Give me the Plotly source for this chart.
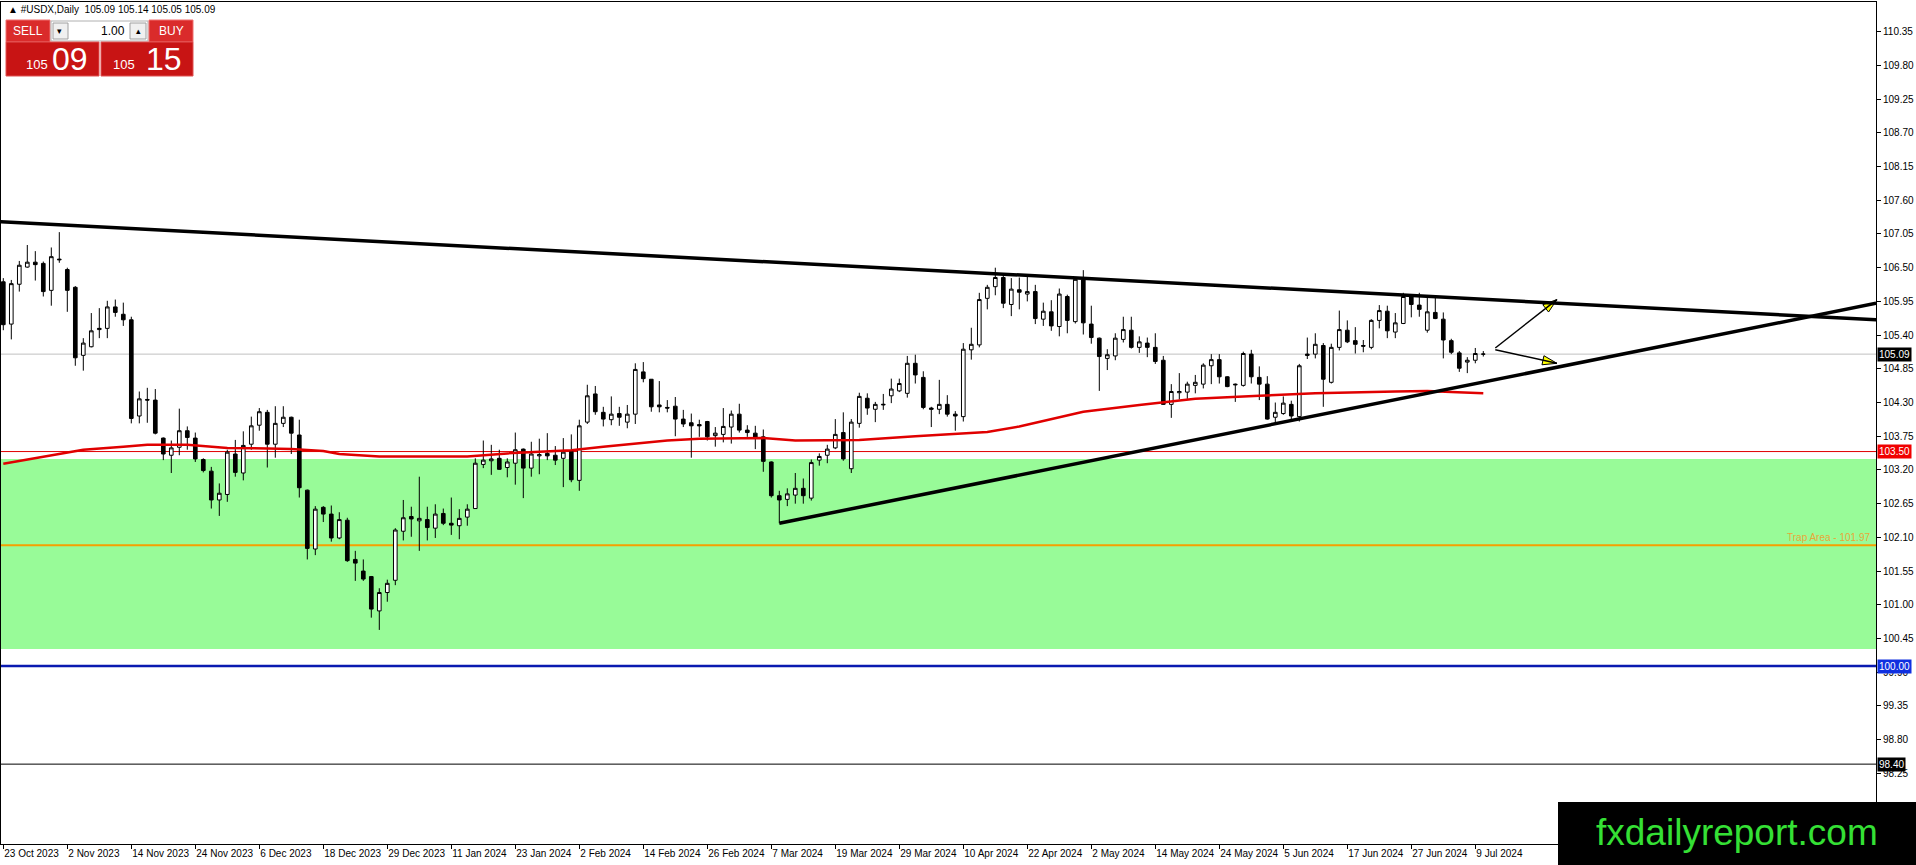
import math
import pandas as pd
import plotly.graph_objects as go

# daily USDX bars, 23 Oct 2023 .. 10 Jul 2024 (broker has no bar on 25 Dec / 1 Jan)
dates = pd.bdate_range("2023-10-23", "2024-07-10")
dates = dates[~dates.isin(pd.to_datetime(["2023-12-25", "2024-01-01"]))]

opens = [
    106.27, 105.58, 106.23, 106.51, 106.59, 106.57, 106.13, 106.64, 106.47, 106.18,
    105.07, 105.21, 105.49, 105.51, 105.86, 105.74, 105.65, 104.08, 104.35, 104.34,
    103.72, 103.44, 103.57, 103.84, 103.72, 103.37, 103.18, 102.71, 102.80, 103.46,
    103.15, 103.62, 103.93, 104.14, 103.62, 103.96, 104.06, 103.77, 102.87, 101.91,
    102.59, 102.48, 102.09, 102.38, 101.74, 101.55, 101.46, 100.90, 101.20, 101.40,
    102.20, 102.44, 102.37, 102.39, 102.25, 102.49, 102.33, 102.29, 102.43, 102.57,
    103.29, 103.35, 103.39, 103.24, 103.31, 103.54, 103.23, 103.43, 103.47, 103.44,
    103.39, 103.50, 103.03, 103.98, 104.44, 104.14, 104.02, 104.12, 103.98, 104.11,
    104.80, 104.68, 104.26, 104.22, 104.24, 104.03, 103.97, 103.94, 103.99, 103.76,
    103.78, 103.90, 104.11, 103.85, 103.80, 103.74, 103.33, 102.78, 102.72, 102.79,
    102.90, 102.74, 103.36, 103.44, 103.56, 103.81, 103.22, 103.96, 104.37, 104.19,
    104.26, 104.41, 104.49, 104.45, 104.94, 104.71, 104.21, 104.19, 104.27, 104.11,
    104.07, 105.16, 105.24, 106.00, 106.19, 106.34, 105.90, 106.14, 106.07, 106.11,
    105.66, 105.78, 105.54, 106.03, 105.62, 106.30, 105.58, 105.35, 105.02, 105.06,
    105.33, 105.48, 105.20, 105.27, 105.20, 104.99, 104.27, 104.46, 104.47, 104.58,
    104.60, 104.90, 105.00, 104.72, 104.60, 104.58, 105.09, 104.71, 104.60, 104.06,
    104.12, 104.27, 104.07, 105.09, 105.09, 105.23, 104.63, 105.20, 105.48, 105.31,
    105.23, 105.20, 105.64, 105.79, 105.45, 105.59, 106.03, 105.89, 105.48, 105.77,
    105.66, 105.31, 105.11, 104.96, 104.99, 105.09,
]
highs = [
    106.33, 106.30, 106.61, 106.87, 106.77, 106.60, 106.83, 107.08, 106.50, 106.20,
    105.35, 105.76, 105.84, 105.96, 105.98, 105.93, 105.70, 104.48, 104.54, 104.52,
    103.73, 103.68, 104.20, 103.91, 103.81, 103.39, 103.25, 102.98, 103.53, 103.69,
    103.83, 104.07, 104.21, 104.18, 104.24, 104.24, 104.07, 104.02, 102.88, 102.61,
    102.61, 102.62, 102.51, 102.42, 101.88, 101.74, 101.47, 101.27, 101.41, 102.25,
    102.71, 102.60, 103.09, 102.60, 102.64, 102.57, 102.75, 102.56, 102.64, 103.39,
    103.68, 103.61, 103.53, 103.39, 103.81, 103.55, 103.66, 103.71, 103.80, 103.59,
    103.72, 103.78, 104.02, 104.59, 104.57, 104.23, 104.40, 104.23, 104.26, 104.94,
    104.96, 104.68, 104.65, 104.34, 104.39, 104.18, 104.12, 104.02, 104.00, 103.90,
    104.21, 104.17, 104.28, 103.93, 103.92, 103.86, 103.34, 102.86, 102.90, 103.15,
    103.06, 103.37, 103.47, 103.61, 104.03, 104.14, 104.03, 104.46, 104.45, 104.31,
    104.44, 104.69, 104.69, 105.06, 105.08, 104.81, 104.23, 104.67, 104.42, 104.16,
    105.27, 105.52, 106.09, 106.22, 106.50, 106.39, 106.33, 106.34, 106.35, 106.22,
    105.93, 105.97, 106.16, 106.06, 106.34, 106.46, 105.88, 105.36, 105.17, 105.43,
    105.70, 105.70, 105.38, 105.36, 105.43, 105.06, 104.60, 104.78, 104.64, 104.75,
    104.94, 105.09, 105.09, 104.73, 104.61, 105.13, 105.16, 104.89, 104.73, 104.30,
    104.40, 104.33, 104.93, 105.36, 105.43, 105.27, 105.26, 105.80, 105.64, 105.53,
    105.32, 105.66, 105.89, 105.88, 105.76, 106.09, 106.06, 106.09, 106.02, 106.02,
    105.77, 105.34, 105.14, 105.04, 105.19, 105.14,
]
lows = [
    105.48, 105.33, 106.11, 106.50, 106.29, 106.03, 105.88, 106.58, 105.78, 104.90,
    104.82, 105.20, 105.35, 105.35, 105.70, 105.55, 103.96, 103.96, 103.97, 103.78,
    103.36, 103.15, 103.44, 103.53, 103.33, 103.16, 102.57, 102.45, 102.68, 103.09,
    103.03, 103.53, 103.84, 103.24, 103.40, 103.90, 103.46, 102.75, 101.74, 101.81,
    102.35, 102.03, 102.07, 101.70, 101.39, 101.39, 100.79, 100.59, 101.05, 101.32,
    102.05, 102.11, 101.88, 102.05, 102.09, 102.30, 102.14, 102.07, 102.29, 102.57,
    103.23, 103.12, 103.20, 103.08, 102.96, 102.74, 103.09, 103.13, 103.36, 103.28,
    102.92, 103.00, 102.86, 103.95, 104.10, 103.91, 103.93, 103.92, 103.88, 103.95,
    104.63, 104.15, 104.14, 104.14, 103.75, 103.90, 103.40, 103.74, 103.68, 103.58,
    103.65, 103.63, 103.81, 103.74, 103.54, 103.17, 102.75, 102.33, 102.61, 102.65,
    102.65, 102.70, 103.27, 103.31, 103.54, 103.35, 103.15, 103.89, 104.10, 103.98,
    104.18, 104.29, 104.47, 104.38, 104.61, 104.19, 103.90, 104.11, 104.07, 103.84,
    103.99, 105.00, 105.20, 105.82, 106.05, 105.84, 105.71, 105.82, 105.95, 105.58,
    105.55, 105.47, 105.38, 105.43, 105.59, 105.41, 105.26, 104.49, 104.83, 104.99,
    105.28, 105.18, 105.11, 105.04, 104.93, 104.26, 104.05, 104.35, 104.36, 104.45,
    104.53, 104.60, 104.61, 104.55, 104.31, 104.56, 104.61, 104.34, 104.02, 103.97,
    104.10, 104.03, 103.99, 105.01, 105.02, 104.23, 104.61, 105.15, 105.27, 105.10,
    105.12, 105.17, 105.51, 105.35, 105.35, 105.58, 105.69, 105.70, 105.44, 105.66,
    105.02, 105.09, 104.80, 104.78, 104.94, 105.05,
]
closes = [
    105.57, 106.24, 106.54, 106.59, 106.55, 106.11, 106.68, 106.63, 106.13, 105.03,
    105.27, 105.47, 105.51, 105.86, 105.77, 105.65, 104.04, 104.36, 104.34, 103.80,
    103.46, 103.56, 103.84, 103.73, 103.38, 103.19, 102.71, 102.82, 103.49, 103.16,
    103.60, 103.92, 104.15, 103.62, 103.96, 104.06, 103.80, 102.91, 101.92, 102.56,
    102.48, 102.09, 102.39, 101.72, 101.68, 101.42, 100.93, 101.20, 101.35, 102.22,
    102.42, 102.40, 102.41, 102.26, 102.48, 102.33, 102.30, 102.41, 102.56, 103.31,
    103.36, 103.38, 103.21, 103.33, 103.53, 103.23, 103.46, 103.45, 103.43, 103.36,
    103.49, 103.04, 103.92, 104.41, 104.15, 104.03, 104.11, 104.06, 104.11, 104.84,
    104.69, 104.23, 104.23, 104.21, 104.03, 103.95, 103.92, 103.92, 103.74, 103.80,
    103.91, 104.11, 103.85, 103.81, 103.73, 103.34, 102.78, 102.71, 102.81, 102.90,
    102.78, 103.32, 103.42, 103.54, 103.78, 103.38, 103.98, 104.40, 104.21, 104.27,
    104.27, 104.52, 104.61, 104.94, 104.75, 104.22, 104.19, 104.27, 104.11, 104.08,
    105.17, 105.25, 105.98, 106.18, 106.34, 105.92, 106.15, 106.10, 106.11, 105.67,
    105.79, 105.55, 106.07, 105.64, 106.31, 105.60, 105.36, 105.05, 105.08, 105.35,
    105.49, 105.20, 105.29, 105.20, 104.97, 104.27, 104.48, 104.48, 104.60, 104.63,
    104.91, 105.00, 104.72, 104.56, 104.59, 105.10, 104.72, 104.60, 104.03, 104.14,
    104.29, 104.08, 104.90, 105.07, 105.25, 104.68, 105.20, 105.49, 105.29, 105.25,
    105.22, 105.64, 105.80, 105.47, 105.60, 106.03, 105.90, 105.82, 105.78, 105.67,
    105.32, 105.12, 104.86, 104.99, 105.10, 105.09,
]

# red moving average at these bars
ma_bars = [0, 5, 10, 15, 18, 23, 28, 33, 36, 40, 42, 47, 58, 63, 71, 75, 83, 87, 95, 99,
           107, 114, 120, 123, 127, 131, 135, 142, 149, 157, 164, 174, 178, 181, 185]
ma_values = [103.30, 103.41, 103.53, 103.58, 103.61, 103.61, 103.56, 103.55, 103.54, 103.51,
             103.46, 103.42, 103.42, 103.47, 103.52, 103.58, 103.68, 103.71, 103.72, 103.68,
             103.69, 103.75, 103.80, 103.82, 103.91, 104.03, 104.15, 104.26, 104.36, 104.41,
             104.45, 104.48, 104.49, 104.47, 104.45]

tick_labels = ["23 Oct 2023", "2 Nov 2023", "14 Nov 2023", "24 Nov 2023", "6 Dec 2023",
               "18 Dec 2023", "29 Dec 2023", "11 Jan 2024", "23 Jan 2024", "2 Feb 2024",
               "14 Feb 2024", "26 Feb 2024", "7 Mar 2024", "19 Mar 2024", "29 Mar 2024",
               "10 Apr 2024", "22 Apr 2024", "2 May 2024", "14 May 2024", "24 May 2024",
               "5 Jun 2024", "17 Jun 2024", "27 Jun 2024", "9 Jul 2024"]
price_ticks = [110.35, 109.80, 109.25, 108.70, 108.15, 107.60, 107.05, 106.50, 105.95,
               105.40, 104.85, 104.30, 103.75, 103.20, 102.65, 102.10, 101.55, 101.00,
               100.45, 99.90, 99.35, 98.80, 98.25]

# horizontal levels
current_price = 105.09
level_red = 103.50
trap_level = 101.97
zone_top, zone_bottom = 103.38, 100.28
level_blue = 100.00
level_low = 98.40

# drawn objects (bar, price)
upper_trend = [(-0.41, 107.25), (234.1, 105.65)]
lower_trend = [(97, 102.33), (234.1, 105.92)]
arrows = [((186.5, 105.19), (194.2, 105.98)),
          ((186.5, 105.16), (194.2, 104.94))]

bars = list(range(len(dates)))
label_bars = [dates.get_loc(pd.to_datetime(t, format="%d %b %Y")) for t in tick_labels]

# plot area in pixels (MT4 window)
W, H = 1916, 865
L, R, T, B = 1, 1876, 2, 844
BAR_PX = 8
X_RANGE = [(L - 3.3) / BAR_PX, (R - 3.3) / BAR_PX]
Y_RANGE = [97.097, 110.835]
PRICE_PX = (B - T) / (Y_RANGE[1] - Y_RANGE[0])


def px(x, y):
    # window pixel -> paper coords
    return (x - L) / (R - L), (B - y) / (B - T)


def box(x0, y0, x1, y1, fill, line="rgba(0,0,0,0)"):
    a, d = px(x0, y0)
    c, b = px(x1, y1)
    return dict(type="rect", xref="paper", yref="paper", x0=a, x1=c, y0=b, y1=d,
                fillcolor=fill, line=dict(color=line, width=1), layer="above")


def label(x, y, text, size, color="white", xanchor="center", family="Liberation Sans, Arial"):
    a, b = px(x, y)
    return dict(xref="paper", yref="paper", x=a, y=b, text=text, showarrow=False,
                xanchor=xanchor, yanchor="middle", font=dict(size=size, color=color, family=family))


fig = go.Figure()

fig.add_trace(go.Candlestick(
    x=bars, open=opens, high=highs, low=lows, close=closes,
    increasing=dict(fillcolor="white", line=dict(color="black", width=1)),
    decreasing=dict(fillcolor="black", line=dict(color="black", width=1)),
    whiskerwidth=0, hoverinfo="skip", showlegend=False))

fig.add_trace(go.Scatter(x=ma_bars, y=ma_values, mode="lines",
                         line=dict(color="#E00000", width=2.5),
                         hoverinfo="skip", showlegend=False))

shapes = [
    dict(type="rect", xref="paper", x0=0, x1=1, y0=zone_bottom, y1=zone_top,
         fillcolor="#98FB98", line=dict(width=0), layer="below"),
    dict(type="line", xref="paper", x0=0, x1=1, y0=current_price, y1=current_price,
         line=dict(color="#C0C0C0", width=1), layer="below"),
    dict(type="line", xref="paper", x0=0, x1=1, y0=level_red, y1=level_red,
         line=dict(color="#E00000", width=1), layer="below"),
    dict(type="line", xref="paper", x0=0, x1=1, y0=trap_level, y1=trap_level,
         line=dict(color="#F5A000", width=2), layer="below"),
    dict(type="line", xref="paper", x0=0, x1=1, y0=level_blue, y1=level_blue,
         line=dict(color="#0A1AB0", width=2.5), layer="below"),
    dict(type="line", xref="paper", x0=0, x1=1, y0=level_low, y1=level_low,
         line=dict(color="black", width=1), layer="below"),
]
for (x0, y0), (x1, y1) in (upper_trend, lower_trend):
    shapes.append(dict(type="line", x0=x0, y0=y0, x1=x1, y1=y1,
                       line=dict(color="black", width=3.5), layer="above"))

head_x, head_y, head_angle = [], [], []
for (x0, y0), (x1, y1) in arrows:
    shapes.append(dict(type="line", x0=x0, y0=y0, x1=x1, y1=y1,
                       line=dict(color="black", width=1.5), layer="above"))
    dx = (x1 - x0) * BAR_PX
    dy = (y1 - y0) * PRICE_PX
    head_x.append(x1)
    head_y.append(y1)
    head_angle.append(math.degrees(math.atan2(dx, dy)))

fig.add_trace(go.Scatter(x=head_x, y=head_y, mode="markers",
                         marker=dict(symbol="arrow", size=15, angle=head_angle,
                                     color="#FFFF00", line=dict(color="black", width=1)),
                         hoverinfo="skip", showlegend=False))

# one-click trading panel
shapes += [
    box(6, 20, 50, 42, "#DA2B2B", "#F07070"),
    box(51, 21, 148, 41, "white", "#B0B0B0"),
    box(53, 23, 68, 39, "#F0F0F0", "#A0A0A0"),
    box(130, 23, 146, 39, "#F0F0F0", "#A0A0A0"),
    box(149, 20, 193, 42, "#DA2B2B", "#F07070"),
    box(6, 42, 99, 76, "#C81414", "#E05050"),
    box(101, 42, 193, 76, "#C81414", "#E05050"),
    # watermark
    box(1558, 802, 1916, 865, "black"),
]

annotations = [
    label(6, 9, "▲ #USDX,Daily  105.09 105.14 105.05 105.09", 10, "black", "left"),
    label(28, 31, "SELL", 12),
    label(171, 31, "BUY", 12),
    label(60, 31, "▾", 9, "black"),
    label(138, 31, "▴", 9, "black"),
    label(127, 31, "1.00", 12, "black", "right"),
    label(37, 64, "105", 13),
    label(70, 59, "09", 32),
    label(124, 64, "105", 13),
    label(164, 59, "15", 32),
    label(1737, 832, "fxdailyreport.com", 37, "#35E035"),
    dict(xref="paper", x=0.998, y=trap_level, yref="y", text="Trap Area - 101.97",
         showarrow=False, xanchor="right", yanchor="bottom",
         font=dict(size=10, color="#E8A838")),
]
# price tags on the right scale
for value, bg in ((current_price, "black"), (level_red, "#F00000"),
                  (level_blue, "#1030E0"), (level_low, "black")):
    annotations.append(dict(xref="paper", x=1.0005, y=value, yref="y", text=f"{value:.2f}",
                            showarrow=False, xanchor="left", yanchor="middle",
                            bgcolor=bg, borderpad=1, font=dict(size=10, color="white")))

fig.update_layout(
    width=W, height=H,
    margin=dict(l=L, r=W - R, t=T, b=H - B, pad=0),
    paper_bgcolor="white", plot_bgcolor="white",
    font=dict(family="Liberation Sans, Arial", size=10, color="black"),
    shapes=shapes, annotations=annotations,
    boxgap=0.35,
    xaxis=dict(range=X_RANGE, tickvals=label_bars, ticktext=tick_labels, tickangle=0,
               ticks="outside", ticklen=4, tickcolor="black", ticklabelposition="outside right",
               showline=True, linecolor="black", linewidth=1, mirror=True,
               showgrid=False, zeroline=False, rangeslider=dict(visible=False)),
    yaxis=dict(range=Y_RANGE, side="right", tickvals=price_ticks,
               ticktext=[f"{v:.2f}" for v in price_ticks],
               ticks="outside", ticklen=4, tickcolor="black",
               showline=True, linecolor="black", linewidth=1, mirror=True,
               showgrid=False, zeroline=False),
)

fig.write_html("out.html", config={"displayModeBar": False},
               post_script="document.body.style.margin='0';document.body.style.overflow='hidden';")
